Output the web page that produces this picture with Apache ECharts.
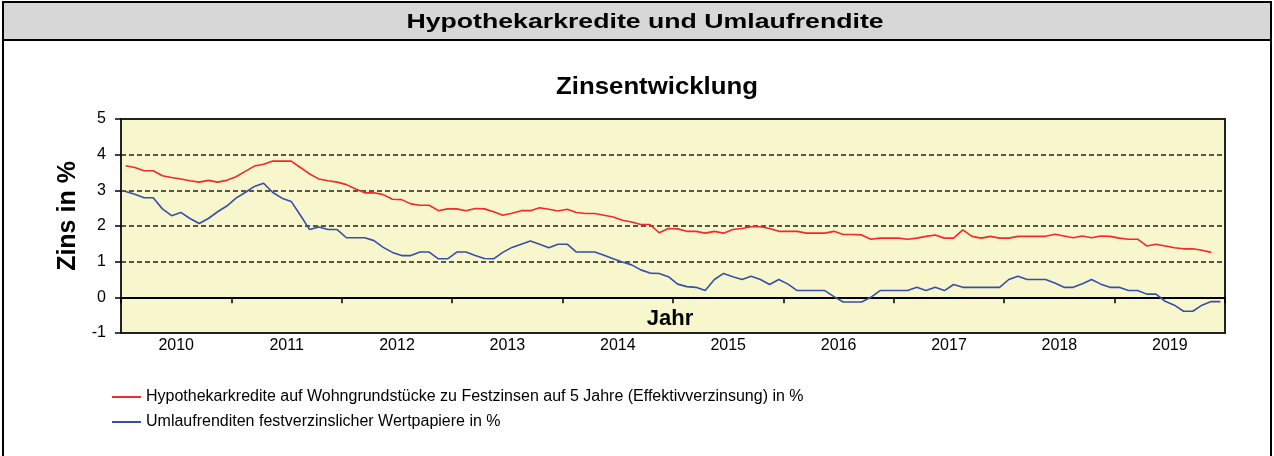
<!DOCTYPE html>
<html>
<head>
<meta charset="utf-8">
<script src="https://cdn.jsdelivr.net/npm/echarts@6/dist/echarts.min.js"></script>
<style>
  html, body { margin: 0; padding: 0; background: #fff; }
  #chart { width: 1274px; height: 456px; }
</style>
</head>
<body>
<div id="chart"></div>
<script>
// Jahre (Achsenbeschriftung) und Monate (Datenpunkte)
const years = ['2010', '2011', '2012', '2013', '2014', '2015', '2016', '2017', '2018', '2019'];
const months = [];
years.forEach(function (y) {
  for (let m = 1; m <= 12; m++) months.push(y + '-' + (m < 10 ? '0' + m : m));
});

const yTicks = [-1, 0, 1, 2, 3, 4, 5];

// Hypothekarkredite 5 Jahre fest (Jan 2010 - Nov 2019)
const hypo = [
  3.69, 3.64, 3.55, 3.55, 3.41, 3.36, 3.32, 3.27, 3.23, 3.28, 3.23, 3.28,
  3.38, 3.53, 3.68, 3.73, 3.82, 3.82, 3.82, 3.64, 3.46, 3.32, 3.27, 3.23,
  3.16, 3.04, 2.93, 2.93, 2.88, 2.75, 2.74, 2.62, 2.58, 2.58, 2.43, 2.48,
  2.48, 2.43, 2.49, 2.48, 2.40, 2.30, 2.36, 2.43, 2.43, 2.51, 2.47, 2.42,
  2.47, 2.38, 2.35, 2.35, 2.30, 2.25, 2.16, 2.11, 2.04, 2.04, 1.81, 1.93,
  1.92, 1.85, 1.85, 1.80, 1.85, 1.80, 1.90, 1.93, 1.98, 1.98, 1.93, 1.85,
  1.85, 1.85, 1.80, 1.80, 1.80, 1.85, 1.76, 1.76, 1.75, 1.63, 1.66, 1.66,
  1.66, 1.63, 1.66, 1.71, 1.75, 1.66, 1.66, 1.89, 1.71, 1.66, 1.71, 1.66,
  1.66, 1.71, 1.71, 1.71, 1.71, 1.77, 1.72, 1.67, 1.72, 1.67, 1.72, 1.71,
  1.66, 1.63, 1.63, 1.44, 1.49, 1.44, 1.39, 1.36, 1.36, 1.32, 1.26
];

// Umlaufrendite (Jan 2010 - Dez 2019)
const umlauf = [
  2.97, 2.89, 2.79, 2.79, 2.48, 2.29, 2.38, 2.21, 2.07, 2.21, 2.40, 2.56,
  2.78, 2.94, 3.11, 3.20, 2.94, 2.78, 2.69, 2.30, 1.90, 1.97, 1.90, 1.90,
  1.67, 1.67, 1.67, 1.59, 1.40, 1.26, 1.17, 1.17, 1.27, 1.27, 1.08, 1.08,
  1.27, 1.27, 1.17, 1.09, 1.08, 1.26, 1.40, 1.49, 1.58, 1.49, 1.39, 1.49,
  1.49, 1.27, 1.27, 1.27, 1.18, 1.08, 0.99, 0.91, 0.77, 0.68, 0.67, 0.58,
  0.37, 0.30, 0.28, 0.19, 0.50, 0.67, 0.58, 0.50, 0.59, 0.50, 0.36, 0.50,
  0.37, 0.19, 0.19, 0.19, 0.19, 0.02, -0.13, -0.13, -0.13, 0.00, 0.19, 0.19,
  0.19, 0.19, 0.28, 0.19, 0.28, 0.19, 0.36, 0.28, 0.28, 0.28, 0.28, 0.28,
  0.50, 0.59, 0.50, 0.50, 0.50, 0.40, 0.28, 0.28, 0.38, 0.50, 0.37, 0.28,
  0.28, 0.19, 0.19, 0.09, 0.09, -0.11, -0.22, -0.39, -0.39, -0.22, -0.12, -0.12
];

const font = '"Liberation Sans", Arial, sans-serif';
const chart = echarts.init(document.getElementById('chart'), null, { renderer: 'canvas' });

const option = {
  animation: false,
  textStyle: { fontFamily: font, color: '#000' },
  graphic: [
    { type: 'rect', z: -10, shape: { x: 3, y: 2, width: 1268, height: 38 }, style: { fill: '#d7d7d7' } },
    { type: 'rect', z: -9, shape: { x: 3, y: 2, width: 1268, height: 470 }, style: { fill: null, stroke: '#000', lineWidth: 2 } },
    { type: 'line', z: -9, shape: { x1: 3, y1: 40, x2: 1271, y2: 40 }, style: { stroke: '#000', lineWidth: 2 } },
    { type: 'text', x: 645, y: 22, scaleX: 1.27, style: { text: 'Hypothekarkredite und Umlaufrendite', font: 'bold 21px ' + font, fill: '#000', align: 'center', verticalAlign: 'middle' } },
    { type: 'text', x: 657, y: 88, scaleX: 1.12, style: { text: 'Zinsentwicklung', font: 'bold 23px ' + font, fill: '#000', align: 'center', verticalAlign: 'middle' } },
    { type: 'text', x: 68, y: 216, rotation: Math.PI / 2, style: { text: 'Zins in %', font: 'bold 25px ' + font, fill: '#000', align: 'center', verticalAlign: 'middle' } },
    { type: 'text', x: 670, y: 319, style: { text: 'Jahr', font: 'bold 22px ' + font, fill: '#000', align: 'center', verticalAlign: 'middle' } }
  ],
  legend: {
    orient: 'vertical',
    left: 112,
    top: 389,
    padding: 0,
    icon: 'rect',
    itemWidth: 29,
    itemHeight: 2,
    itemGap: 9,
    textStyle: { fontFamily: font, fontSize: 16, color: '#000' },
    data: [
      'Hypothekarkredite auf Wohngrundstücke zu Festzinsen auf 5 Jahre (Effektivverzinsung) in %',
      'Umlaufrenditen festverzinslicher Wertpapiere in %'
    ]
  },
  grid: {
    left: 121, right: 49, top: 119, bottom: 123,
    outerBoundsMode: 'none',
    show: true,
    backgroundColor: '#f8f6cc',
    borderColor: '#222',
    borderWidth: 2
  },
  xAxis: [
    { type: 'category', data: months, boundaryGap: true, position: 'top', show: false, axisLine: { onZero: false } },
    {
      type: 'category', data: years, boundaryGap: true, position: 'bottom',
      axisLine: { onZero: true, onZeroAxisIndex: 0, lineStyle: { color: '#000', width: 2 } },
      axisTick: { show: true, length: 6, lineStyle: { color: '#000', width: 1.5 } },
      axisLabel: { margin: 5, fontSize: 16, color: '#000', fontFamily: font }
    }
  ],
  yAxis: {
    type: 'value', min: yTicks[0], max: yTicks[yTicks.length - 1], interval: 1,
    axisLine: { show: false },
    axisTick: { show: true, length: 6, lineStyle: { color: '#000', width: 1.5 } },
    axisLabel: { fontSize: 16, color: '#000', margin: 15, fontFamily: font },
    splitLine: { show: true, lineStyle: { color: '#222', type: [5, 3], width: 1.5 } }
  },
  series: [
    {
      name: 'Hypothekarkredite auf Wohngrundstücke zu Festzinsen auf 5 Jahre (Effektivverzinsung) in %',
      type: 'line', xAxisIndex: 0, data: hypo, symbol: 'none',
      lineStyle: { color: '#f22a2a', width: 1.6 }, itemStyle: { color: '#f22a2a' }
    },
    {
      name: 'Umlaufrenditen festverzinslicher Wertpapiere in %',
      type: 'line', xAxisIndex: 0, data: umlauf, symbol: 'none',
      lineStyle: { color: '#3550a8', width: 1.6 }, itemStyle: { color: '#3550a8' }
    }
  ]
};

chart.setOption(option);
</script>
</body>
</html>
